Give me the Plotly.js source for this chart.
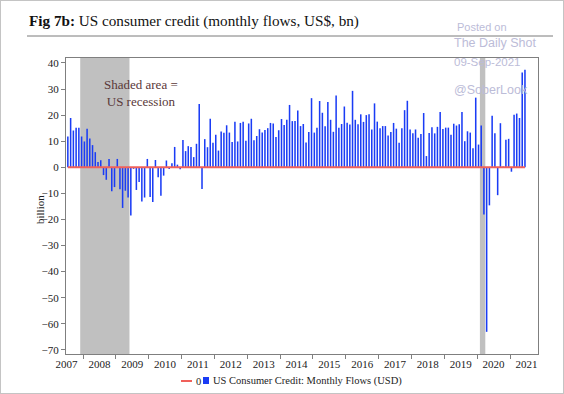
<!DOCTYPE html>
<html><head><meta charset="utf-8">
<script src="https://cdn.plot.ly/plotly-3.0.1.min.js"></script>
<style>
html,body{margin:0;padding:0;background:#fff}
#wrap{position:relative;width:564px;height:394px}
#chart{width:564px;height:394px}
#frame{position:absolute;left:0;top:0;width:564px;height:394px;box-sizing:border-box;border:1px solid #c4c4c4;pointer-events:none}
</style>
</head><body><div id="wrap"><div id="chart"></div><div id="frame"></div></div>
<script>
// Monthly flows, US$ bn, Jul 2007 .. Jun 2021
const START_YEAR = 2007, START_MONTH = 7;
const credit = [
  11.8, 18.9, 14.1, 15.2, 15.2, 11.8, 9.9, 14.8, 11.0, 8.5, 5.8, 2.0,
  2.7, -3.0, -4.8, 3.2, -9.2, -7.6, 3.2, -8.4, -15.6, -9.0, -11.6, -18.5,
  -0.6, -8.7, -5.6, -13.1, -11.6, 3.2, -11.4, -13.3, 2.8, -3.8, -10.9, -3.2,
  2.6, -0.7, 1.5, 7.8, 1.0, -0.8, 10.5, 6.2, 8.1, 7.8, 3.9, 9.0,
  24.3, -8.3, 10.8, 7.7, 18.6, 9.4, 12.5, 6.4, 13.7, 13.2, 16.1, 13.3,
  9.7, 17.5, 9.9, 17.0, 17.5, 10.2, 16.8, 18.6, 10.4, 12.0, 14.6, 13.3,
  14.3, 15.0, 17.0, 16.8, 11.6, 14.2, 18.5, 16.2, 18.2, 23.9, 17.7, 17.7,
  21.8, 15.8, 16.6, 9.5, 13.5, 26.5, 13.3, 15.2, 25.4, 20.9, 15.7, 25.0,
  18.2, 13.6, 27.5, 15.2, 16.6, 23.3, 17.1, 16.4, 29.3, 18.2, 16.5, 20.3,
  17.4, 20.0, 20.3, 14.5, 24.5, 17.5, 15.0, 15.8, 15.8, 12.2, 13.5, 17.0,
  14.8, 9.4, 15.0, 21.9, 25.5, 14.5, 13.0, 14.5, 11.3, 12.8, 20.8, 4.3,
  13.1, 15.3, 13.0, 15.5, 21.2, 14.7, 15.2, 15.2, 12.5, 16.7, 16.0, 16.5,
  21.2, 10.0, 13.8, 13.3, 7.3, 26.7, 8.7, 16.0, -18.1, -63.1, -14.6, 19.8,
  13.0, -10.7, 16.9, 0.3, 10.6, 10.9, -1.7, 20.1, 20.6, 18.9, 36.3, 37.4
];
const recessionStart = ['2007-12-01', '2020-02-01'];
const recessionEnd   = ['2009-06-01', '2020-04-01'];
const yearLabels = ['2007','2008','2009','2010','2011','2012','2013','2014','2015','2016','2017','2018','2019','2020','2021'];
const yTickVals = [-70, -60, -50, -40, -30, -20, -10, 0, 10, 20, 30, 40];
const seriesName = 'US Consumer Credit: Monthly Flows (USD)';
const zeroName = '0';

const months = credit.map((_, i) => {
  const m = START_MONTH - 1 + i;
  const y = START_YEAR + Math.floor(m / 12);
  return y + '-' + String(m % 12 + 1).padStart(2, '0');
});
const zeroLine = credit.map(() => 0);
const labelDates = yearLabels.map(y => y + '-07-02');

const SERIF = 'Liberation Serif, DejaVu Serif, serif';
const SANS = 'Liberation Sans, Arial, sans-serif';
const WM = '#bcbcd8';
const BLUE = '#1a3cf5', RED = '#f0605a';

const traces = [
  {type: 'bar', name: seriesName, x: months, y: credit,
   xperiod: 'M1', xperiodalignment: 'middle',
   marker: {color: BLUE, line: {width: 0}}},
  {type: 'scatter', mode: 'lines', name: zeroName, x: months, y: zeroLine,
   xperiod: 'M1', xperiodalignment: 'middle',
   line: {color: RED, width: 2}}
];

// plot area: x 66..538, y 58..354
const px = v => (v - 66) / 472;
const py = v => (354 - v) / 296;

const shapes = recessionStart.map((s, i) => ({
  type: 'rect', xref: 'x', yref: 'paper', x0: s, x1: recessionEnd[i], y0: 0, y1: 1,
  fillcolor: '#c0c0c0', line: {width: 0}, layer: 'below'
}));
shapes.push({type: 'line', xref: 'paper', yref: 'paper', x0: px(27), x1: px(553), y0: py(36), y1: py(36),
  line: {color: '#7a7a7a', width: 1}});
// legend keys
shapes.push({type: 'line', xref: 'paper', yref: 'paper', x0: px(181), x1: px(192), y0: py(381), y1: py(381),
  line: {color: RED, width: 2}});
shapes.push({type: 'rect', xref: 'paper', yref: 'paper', x0: px(203), x1: px(209), y0: py(384), y1: py(377),
  fillcolor: BLUE, line: {width: 0}});

const layout = {
  width: 564, height: 394,
  margin: {l: 66, r: 26, t: 58, b: 40},
  paper_bgcolor: '#fff', plot_bgcolor: '#fff',
  bargap: 0.42,
  showlegend: false,
  xaxis: {type: 'date', range: ['2007-06-26', '2021-11-08'],
    tickvals: labelDates, ticktext: yearLabels, ticks: '',
    minor: {tick0: '2008-01-01', dtick: 'M12', ticks: 'outside', ticklen: 4, tickcolor: '#7f7f7f', showgrid: false},
    showline: true, linecolor: '#7f7f7f', linewidth: 1, mirror: true,
    showgrid: false, zeroline: false, automargin: false,
    tickfont: {family: SERIF, size: 11, color: '#222'}},
  yaxis: {range: [-71.6, 41.9], tickvals: yTickVals,
    ticks: 'outside', ticklen: 4, tickcolor: '#7f7f7f',
    showline: true, linecolor: '#7f7f7f', linewidth: 1, mirror: true,
    showgrid: false, zeroline: false, automargin: false,
    tickfont: {family: SERIF, size: 11, color: '#222'}},
  shapes: shapes,
  annotations: [
    {xref: 'paper', yref: 'paper', x: px(27), y: py(21), xanchor: 'left', yanchor: 'middle', showarrow: false,
     text: '<b>Fig 7b:</b> US consumer credit (monthly flows, US$, bn)',
     font: {family: SERIF, size: 15.2, color: '#111'}},
    {xref: 'paper', yref: 'paper', x: px(455), y: py(27), xanchor: 'left', yanchor: 'middle', showarrow: false,
     text: 'Posted on', font: {family: SANS, size: 11, color: WM}},
    {xref: 'paper', yref: 'paper', x: px(452), y: py(43), xanchor: 'left', yanchor: 'middle', showarrow: false,
     text: 'The Daily Shot', font: {family: SANS, size: 12.5, color: WM}},
    {xref: 'paper', yref: 'paper', x: px(452), y: py(62), xanchor: 'left', yanchor: 'middle', showarrow: false,
     text: '09-Sep-2021', font: {family: SANS, size: 11.5, color: WM}},
    {xref: 'paper', yref: 'paper', x: px(452), y: py(90), xanchor: 'left', yanchor: 'middle', showarrow: false,
     text: '@SoberLook', font: {family: SANS, size: 12.5, color: WM}},
    {xref: 'paper', yref: 'paper', x: px(141), y: py(93), xanchor: 'center', yanchor: 'middle', showarrow: false,
     text: 'Shaded area =<br>US recession', align: 'center',
     font: {family: SERIF, size: 13, color: '#5a3838'}},
    {xref: 'paper', yref: 'paper', x: px(40), y: py(210), xanchor: 'center', yanchor: 'middle', showarrow: false,
     text: 'billion', textangle: -90, font: {family: SERIF, size: 11, color: '#222'}},
    {xref: 'paper', yref: 'paper', x: px(194), y: py(381), xanchor: 'left', yanchor: 'middle', showarrow: false,
     text: zeroName, font: {family: SERIF, size: 10.5, color: '#222'}},
    {xref: 'paper', yref: 'paper', x: px(211), y: py(381), xanchor: 'left', yanchor: 'middle', showarrow: false,
     text: seriesName, font: {family: SERIF, size: 10.5, color: '#222'}}
  ]
};

Plotly.newPlot('chart', traces, layout, {displayModeBar: false, staticPlot: true});
</script>
</body></html>
